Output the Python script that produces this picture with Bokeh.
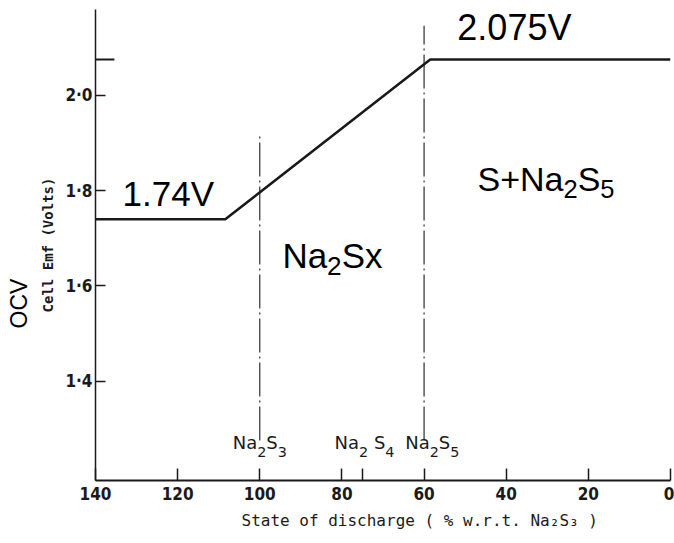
import math
from bokeh.plotting import figure
from bokeh.models import Range1d, FixedTicker, Label, Title
from bokeh.embed import file_html
from bokeh.resources import INLINE

# Open-circuit voltage of the Na/S cell against state of discharge
discharge_pct = [140, 108.4, 58.5, 0]
ocv_volts = [1.74, 1.74, 2.075, 2.075]

low_plateau = 1.74
high_plateau = 2.075

# phase boundaries (dash-dot verticals)
boundary_x = [100, 60]
boundary_top = [1.915, 2.146]
boundary_bottom = [1.276, 1.276]

x_ticks = [140, 120, 100, 80, 75, 60, 40, 20, 0]
x_tick_labels = {140: "140", 120: "120", 100: "100", 80: "80", 75: "",
                 60: "60", 40: "40", 20: "20", 0: "0"}
y_ticks = [1.4, 1.6, 1.8, 2.0]
y_tick_labels = {1.4: "1·4", 1.6: "1·6", 1.8: "1·8", 2.0: "2·0"}

INK = "#1a1a1a"

p = figure(width=674, height=543, output_backend="svg", toolbar_location=None,
           x_range=Range1d(140, 0), y_range=Range1d(1.192, 2.18),
           min_border_left=95, min_border_right=4, min_border_top=9,
           min_border_bottom=63)
p.outline_line_color = None
p.grid.visible = False
p.background_fill_color = "white"
p.border_fill_color = "white"

# axes
p.xaxis.ticker = FixedTicker(ticks=x_ticks)
p.xaxis.major_label_overrides = x_tick_labels
p.xaxis.major_tick_in = 12
p.xaxis.major_tick_out = 0
p.xaxis.minor_tick_line_color = None
p.xaxis.axis_line_width = 2
p.xaxis.axis_line_color = INK
p.xaxis.major_tick_line_color = INK
p.xaxis.major_tick_line_width = 1.5
p.xaxis.major_label_standoff = 6
p.xaxis.major_label_text_font = "DejaVu Sans Condensed"
p.xaxis.major_label_text_font_style = "bold"
p.xaxis.major_label_text_font_size = "17px"
p.xaxis.major_label_text_color = INK

p.yaxis.ticker = FixedTicker(ticks=y_ticks)
p.yaxis.major_label_overrides = y_tick_labels
p.yaxis.major_tick_in = 10
p.yaxis.major_tick_out = 0
p.yaxis.minor_tick_line_color = None
p.yaxis.axis_line_width = 1.5
p.yaxis.axis_line_color = INK
p.yaxis.major_tick_line_color = INK
p.yaxis.major_tick_line_width = 1.5
p.yaxis.major_label_standoff = 3
p.yaxis.major_label_text_font = "DejaVu Sans Condensed"
p.yaxis.major_label_text_font_style = "bold"
p.yaxis.major_label_text_font_size = "17px"
p.yaxis.major_label_text_color = INK

# axis titles
p.add_layout(Title(text="Cell Emf (Volts)", align="center", standoff=13,
                   text_font="DejaVu Sans Mono", text_font_style="bold",
                   text_font_size="14px", text_color=INK), "left")
p.add_layout(Title(text="OCV", align="left", offset=152, standoff=0,
                   text_font="Liberation Sans", text_font_style="normal",
                   text_font_size="23px", text_color="black"), "left")
p.add_layout(Title(text="State of discharge ( % w.r.t. Na₂S₃ )", align="left",
                   offset=146, standoff=12, text_font="DejaVu Sans Mono",
                   text_font_style="normal", text_font_size="16px",
                   text_color=INK), "below")

# OCV curve
p.line(discharge_pct, ocv_volts, line_color=INK, line_width=2.6)

# short reference mark for the upper plateau on the voltage axis
p.segment(x0=[140], y0=[high_plateau], x1=[135.4], y1=[high_plateau],
          line_color=INK, line_width=2)

# phase boundaries
p.segment(x0=boundary_x, y0=boundary_bottom, x1=boundary_x, y1=boundary_top,
          line_color=INK, line_width=1.1, line_dash="34 4 2 4")

# formulas built from pieces: (text, size scale, drop below baseline in px)
ADV = {
    "Liberation Sans": {"N": 0.722, "a": 0.556, "S": 0.667, "x": 0.5,
                        "+": 0.584, "2": 0.556, "5": 0.556},
    "DejaVu Sans": {"N": 0.748, "a": 0.613, "S": 0.635, " ": 0.318,
                    "2": 0.636, "3": 0.636, "4": 0.636, "5": 0.636},
}


def formula(x, y, pieces, size, font, align="left", color="black"):
    widths = [sum(ADV[font][c] for c in t) * size * s for t, s, _ in pieces]
    off = -sum(widths) / 2 if align == "center" else 0.0
    for (txt, scale, drop), w in zip(pieces, widths):
        if txt.strip():
            p.add_layout(Label(x=x, y=y, x_offset=off, y_offset=-drop, text=txt,
                               text_font=font,
                               text_font_size=f"{size * scale:.1f}px",
                               text_color=color))
        off += w


# compound names along the axis
sub = 0.8
formula(100, 1.249, [("Na", 1, 0), ("2", sub, 4), ("S", 1, 0), ("3", sub, 4)],
        18, "DejaVu Sans", "center", INK)
formula(74.5, 1.249, [("Na", 1, 0), ("2", sub, 4), (" ", 1, 0), ("S", 1, 0),
                      ("4", sub, 4)], 18, "DejaVu Sans", "center", INK)
formula(58, 1.249, [("Na", 1, 0), ("2", sub, 4), ("S", 1, 0), ("5", sub, 4)],
        18, "DejaVu Sans", "center", INK)

# plateau voltages
p.add_layout(Label(x=133.4, y=1.754, text="1.74V", text_font="Liberation Sans",
                   text_font_size="35px", text_color="black"))
p.add_layout(Label(x=51.9, y=2.100, text="2.075V", text_font="Liberation Sans",
                   text_font_size="36px", text_color="black"))

# phase regions
formula(94.5, 1.624, [("Na", 1, 0), ("2", 0.75, 0), ("Sx", 1, 0)], 35,
        "Liberation Sans")
formula(47.0, 1.785, [("S+Na", 1, 0), ("2", 0.75, 0), ("S", 1, 0), ("5", 0.75, 0)],
        34, "Liberation Sans")

open("out.html", "w").write(file_html(p, INLINE))
